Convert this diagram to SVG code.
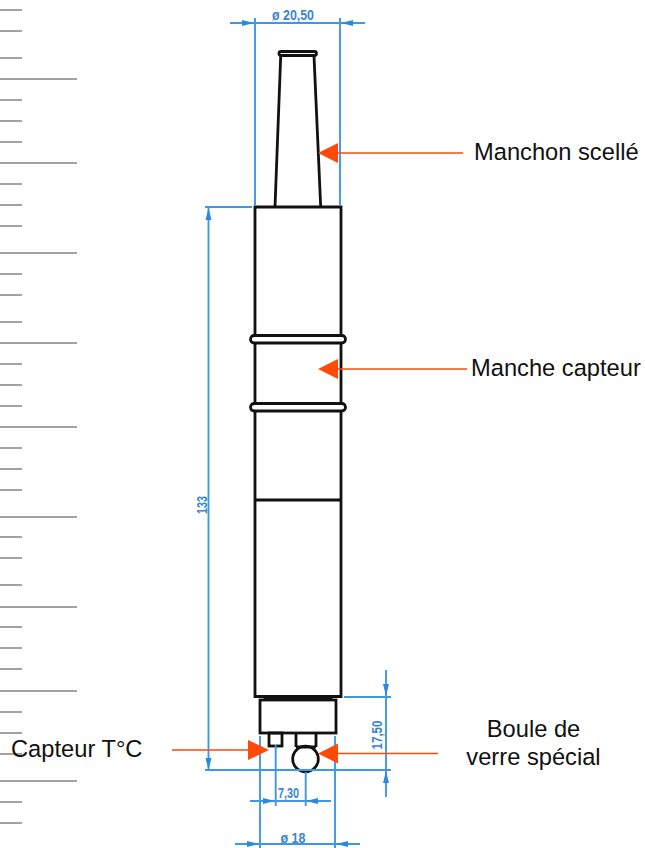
<svg xmlns="http://www.w3.org/2000/svg" width="645" height="848" viewBox="0 0 645 848">
<style>
.t{stroke:#858585;stroke-width:1.6;fill:none}
.o{fill:none;stroke:#111;stroke-width:2.8}
.d{fill:none;stroke:#3f97e8;stroke-width:1.9}
.a{fill:#2a8ae0}
.r{stroke:#ff4a0a;stroke-width:1.5;fill:none}
.h{fill:#ff4a0a}
.l{font-family:"Liberation Sans",Arial,sans-serif;font-size:23.7px;fill:#111}
.n{font-family:"Liberation Sans",Arial,sans-serif;font-size:14px;fill:#3a85cf;font-weight:bold}
</style>
<rect width="645" height="848" fill="#fff"/>
<g id="ruler">
<path class="t" d="M0 10H22M0 31H22M0 58H22M0 79H77M0 100H22M0 121H22M0 142H22M0 163H77M0 184H22M0 205H22M0 226H22M0 253H77M0 274H22M0 295H22M0 322H22M0 343H77M0 364H22M0 385H22M0 406H22M0 427H77M0 448H22M0 469H22M0 490H22M0 517H77M0 537H22M0 558H22M0 585H22M0 607H77M0 627H22M0 648H22M0 669H22M0 691H77M0 712H22M0 733H22M0 754H22M0 781H77M0 802H22M0 823H22"/>
</g>
<g id="probe">
<path class="o" d="M280.700 56L275 207M314 56L320.700 207"/>
<rect class="o" x="279" y="51.500" width="37.500" height="4" rx="2" style="fill:#fff"/>
<path class="o" d="M255 207H341V696.500H255ZM255 500H341"/>
<rect class="o" style="fill:#fff" x="250.500" y="335.500" width="95" height="7.500" rx="3.700"/>
<rect class="o" style="fill:#fff" x="250.500" y="403.500" width="95" height="7.500" rx="3.700"/>
<path class="o" d="M265 697V700M331 697V700M265 698H331"/>
<rect class="o" x="260" y="700" width="76" height="33"/>
<rect class="o" x="269" y="733" width="13" height="13"/>
<path class="o" d="M296 733V747M316 733V747M296 747H316"/>
<circle class="o" cx="305.500" cy="759" r="12.800"/>
</g>
<g id="dimensions">
<path class="d" d="M230 23H365M255 18V205M340 18V205M205 207H252M208.500 207V770M205 770H391M344 697H391M386 670V797M260 736V848M335 736V848M275.700 745V806M305.700 772V806M250 801H331M235 844H360"/>
<path class="a" d="M242 20L254 23L242 26ZM353 20L341 23L353 26ZM205.500 220L208.500 208L211.500 220ZM205.500 758L208.500 770L211.500 758ZM383 684L386 696L389 684ZM383 783L386 771L389 783ZM263 798L275 801L263 804ZM318 798L306 801L318 804ZM247 841L259 844L247 847ZM348 841L336 844L348 847Z"/>
<text class="n" x="293" y="20" text-anchor="middle" textLength="42" lengthAdjust="spacingAndGlyphs">ø 20,50</text>
<text class="n" x="288.500" y="798" text-anchor="middle" textLength="21" lengthAdjust="spacingAndGlyphs">7,30</text>
<text class="n" x="293" y="843" text-anchor="middle" textLength="25" lengthAdjust="spacingAndGlyphs">ø 18</text>
<text class="n" transform="translate(206.500 505) rotate(-90)" text-anchor="middle" textLength="18" lengthAdjust="spacingAndGlyphs">133</text>
<text class="n" transform="translate(382 735) rotate(-90)" text-anchor="middle" textLength="29" lengthAdjust="spacingAndGlyphs">17,50</text>
</g>
<g id="connectors">
<path class="r" d="M336 153H463M336 369H467M172 750H250M336 753.500H438"/>
<path class="h" d="M318 153L338 143V163ZM318 369L338 359V379ZM269 750L248 740V760ZM318 753.500L338 743.500V763.500Z"/>
</g>
<g id="labels">
<text class="l" x="474" y="160">Manchon scellé</text>
<text class="l" x="471" y="376">Manche capteur</text>
<text class="l" x="11" y="757">Capteur T°C</text>
<text class="l" x="533.500" y="737" text-anchor="middle">Boule de</text>
<text class="l" x="533.500" y="765" text-anchor="middle">verre spécial</text>
</g>
</svg>
